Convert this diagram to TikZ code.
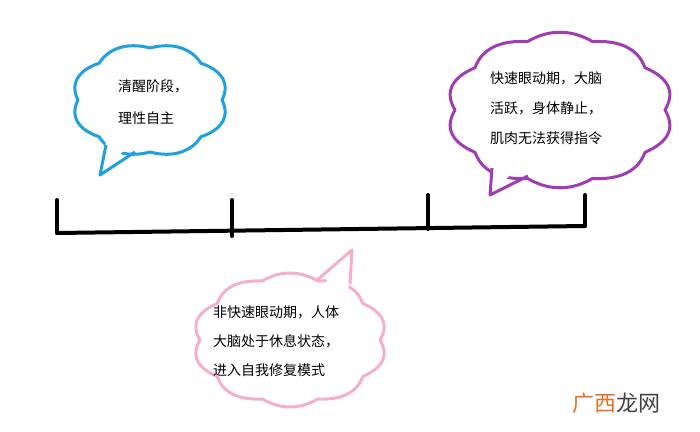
\documentclass[tikz,border=0pt]{standalone}
\usepackage{fontspec}
\setmainfont{Noto Sans CJK SC}
\begin{document}
\begin{tikzpicture}[x=1pt,y=-1pt,
  txt/.style={anchor=west,font=\fontsize{14}{16}\selectfont,inner sep=0},
  cl/.style={line width=3pt,fill=white,line join=round}]
\definecolor{cblue}{RGB}{30,160,225}
\definecolor{cpurple}{RGB}{160,60,180}
\definecolor{cpink}{RGB}{245,175,205}
\definecolor{corange}{RGB}{235,110,40}
\useasboundingbox (0,0) rectangle (700,431);
% timeline
\coordinate (t0) at (57,233);
\coordinate (t3) at (585,226);
\draw[line width=4pt,line cap=round] (t0) -- (t3);
\foreach \xx/\ya/\yb in {57/200/233, 232/200/236, 428/195/229, 585/195/226}
  \draw[line width=4pt,line cap=round] (\xx,\ya) -- (\xx,\yb);
% blue cloud
\draw[cl,draw=cblue] plot[domain=0:360,samples=241,smooth cycle] ({150+72*cos(\x)*(1+0.09*abs(sin(4*\x)))},{100+52*sin(\x)*(1+0.09*abs(sin(4*\x)))});
\fill[white] (108,130) -- (100,175) -- (136,138) -- cycle;
\draw[cblue,line width=3pt,line join=round] (106,145) -- (100,175) -- (135,152);
% purple cloud
\draw[cl,draw=cpurple] plot[domain=0:360,samples=241,smooth cycle] ({560+105*cos(\x)*(1+0.08*abs(sin(5*\x)))},{110+72*sin(\x)*(1+0.08*abs(sin(5*\x)))});
\fill[white] (493,150) -- (490,195) -- (530,155) -- cycle;
\draw[cpurple,line width=3pt,line join=round] (492,168) -- (490,195) -- (528,176);
% pink cloud
\draw[cl,draw=cpink] plot[domain=0:360,samples=241,smooth cycle] ({290+90*cos(\x)*(1+0.08*abs(sin(5*\x)))},{340+62*sin(\x)*(1+0.08*abs(sin(5*\x)))});
\fill[white] (318,292) -- (352,250) -- (348,292) -- cycle;
\draw[cpink,line width=3pt,line join=round] (316,281) -- (352,250) -- (350,284);
% texts
\node[txt] (b1) at (118,86) {清醒阶段，};
\node[txt] (b2) at (118,118) {理性自主};
\node[txt] (p1) at (490,78) {快速眼动期，大脑};
\node[txt] (p2) at (490,108) {活跃，身体静止，};
\node[txt] (p3) at (490,138) {肌肉无法获得指令};
\node[txt] (k1) at (213,312) {非快速眼动期，人体};
\node[txt] (k2) at (213,341) {大脑处于休息状态，};
\node[txt] (k3) at (213,370) {进入自我修复模式};
\node[anchor=west,inner sep=0,font=\fontsize{22}{24}\selectfont] (wm) at (572,403) {\textcolor{corange}{广西}\textcolor{black!75}{龙网}};
\end{tikzpicture}
\end{document}
